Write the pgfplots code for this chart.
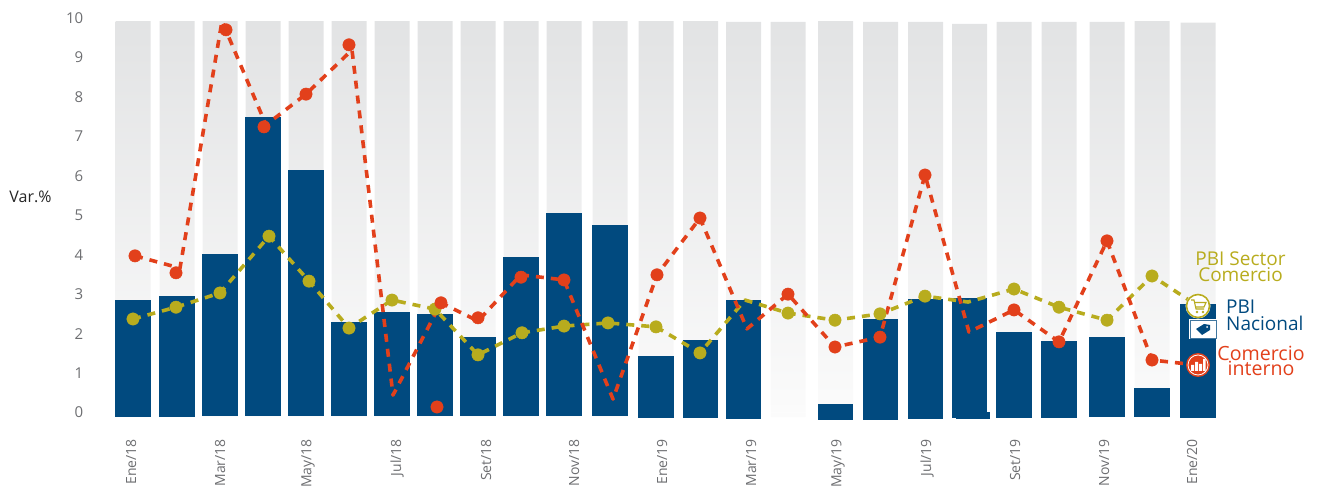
\documentclass[border=0pt]{standalone}
\usepackage{fontspec}
\setmainfont{Open Sans}
\usepackage{pgfplots}
\usepackage{pgfplotstable}
\pgfplotsset{compat=1.18}

\definecolor{pblue}{HTML}{014A7F}
\definecolor{pred}{HTML}{E2401B}
\definecolor{polive}{HTML}{B8AC1E}
\definecolor{ticktxt}{HTML}{6D6E71}
\definecolor{bartop}{HTML}{E2E3E4}
\definecolor{barfoot}{HTML}{FBFBFB}

% x = bar centre on the page, gray = backing bar, blue = PBI Nacional, base = foot of the bar
\pgfplotstableread{
x      gray  blue  base
133    9.92  2.84  -0.11
177    9.92  2.94  -0.11
220    9.92  4.01  -0.08
263    9.92  7.48  -0.08
306    9.92  6.14  -0.08
349    9.92  2.28  -0.08
392    9.92  2.54  -0.08
435    9.92  2.49  -0.08
478    9.92  1.90  -0.08
521    9.92  3.93  -0.08
564    9.92  5.05  -0.08
610    9.92  4.74  -0.08
656    9.92  1.42  -0.13
700.5  9.92  1.83  -0.13
743.5  9.90  2.84  -0.16
788    9.90  nan   nan
835.5  9.92  0.21  -0.19
880.5  9.90  2.36  -0.19
925.5  9.90  2.87  -0.16
969.5  9.85  2.89  -0.13
1014   9.90  2.03  -0.13
1059   9.90  1.80  -0.13
1107   9.90  1.90  -0.11
1152   9.92  0.61  -0.11
1198   9.88  2.74  -0.13
}\bars

% PBI Sector Comercio
\pgfplotstableread{
x     y
133   2.37
176   2.67
220   3.03
269   4.47
309   3.33
349   2.14
392   2.85
435   2.62
478   1.46
522   2.02
564   2.19
608   2.27
656   2.17
700   1.51
745   2.85
788   2.52
835   2.34
880   2.50
925   2.95
968   2.80
1014  3.13
1059  2.67
1107  2.34
1152  3.46
1198  2.70
}\olive

% Comercio interno, line
\pgfplotstableread{
x     y
135   3.97
180   3.66
222   9.92
266   7.29
306   8.07
352   9.19
393   0.44
441   2.78
478   2.32
521   3.49
564   3.36
613   0.34
657   3.49
700   4.93
747   2.12
788   3.00
835   1.66
880   1.91
925   6.02
969   2.04
1014  2.60
1059  1.79
1107  4.35
1152  1.33
1198  1.20
}\redline

% Comercio interno, dots (some months have none in the source)
\pgfplotstableread{
x     y
135   3.97
176   3.54
226   9.70
264   7.24
306   8.07
349   9.32
437   0.14
441   2.78
478   2.40
521   3.43
564   3.36
657   3.49
700   4.93
788   3.00
835   1.66
880   1.91
925   6.02
1014  2.60
1059  1.79
1107  4.35
1152  1.33
}\reddots

\begin{document}
\begin{tikzpicture}
\useasboundingbox (0,0) rectangle (1317pt,486pt);
\begin{axis}[
    at={(90pt,61pt)}, anchor=south west,
    scale only axis, width=1140pt, height=415pt,
    xmin=90, xmax=1230,
    ymin=-0.317, ymax=10.203,
    clip=false,
    axis line style={draw=none},
    major tick length=0pt,
    ytick={0,1,2,3,4,5,6,7,8,9,10},
    xtick={131,220,308,397,486,574,662,751,838,927,1015,1104,1192},
    xticklabels={Ene/18,Mar/18,May/18,Jul/18,Set/18,Nov/18,Ene/19,Mar/19,May/19,Jul/19,Set/19,Nov/19,Ene/20},
    /pgf/number format/assume math mode=true,
    yticklabel style={font=\fontsize{15}{15}\selectfont, text=ticktxt, inner sep=0pt, anchor=east, xshift=-6.5pt},
    xticklabel style={font=\fontsize{14}{14}\selectfont, text=ticktxt, inner sep=0pt, yshift=-14pt, rotate=90, anchor=east},
    bar shift=0pt, bar width=34.6pt,
]
\addplot[ybar, bar width=35pt, draw=none, shade, top color=bartop, bottom color=barfoot] table[x=x,y=gray] {\bars};
\addplot[ybar, bar width=35pt, draw=none, fill=barfoot] table[x=x,y expr=-0.12] {\bars};
\addplot[ybar, draw=pblue, fill=pblue, line width=1pt] table[x=x,y=blue] {\bars};
\addplot[ybar, draw=pblue, fill=pblue, line width=1pt] table[x=x,y=base] {\bars};
\addplot[ybar, bar width=34pt, draw=none, fill=pblue] coordinates {(973,-0.17)};
\addplot[polive, line width=3.6pt, line join=round, dash pattern=on 8pt off 7pt] table[x=x,y=y] {\olive};
\addplot[polive, only marks, mark=*, mark size=6.2pt, mark options={draw=none, fill=polive}]
    coordinates {(133,2.37)(176,2.67)(220,3.03)(269,4.47)(309,3.33)(349,2.14)(392,2.85)(435,2.62)
    (478,1.46)(522,2.02)(564,2.19)(608,2.27)(656,2.17)(700,1.51)(788,2.52)(835,2.34)(880,2.50)
    (925,2.95)(1014,3.13)(1059,2.67)(1107,2.34)(1152,3.46)};
\addplot[pred, line width=3.6pt, line join=round, dash pattern=on 8pt off 7pt] table[x=x,y=y] {\redline};
\addplot[pred, only marks, mark=*, mark size=6.2pt, mark options={draw=none, fill=pred}] table[x=x,y=y] {\reddots};
\end{axis}

\node[font=\fontsize{16}{16}\selectfont, text=black!85] at (30.5pt,289pt) {Var.\%};

% legend text
\begin{scope}[font=\fontsize{19}{19}\selectfont]
\node[text=polive] at (1240.5pt,227pt) {PBI Sector};
\node[text=polive] at (1240.5pt,211pt) {Comercio};
\node[text=pblue, anchor=west, inner sep=0pt] at (1226pt,179pt) {PBI};
\node[text=pblue, anchor=west, inner sep=0pt] at (1226pt,163pt) {Nacional};
\node[text=pred, font=\fontsize{19.6}{19.6}\selectfont] at (1261pt,133pt) {Comercio};
\node[text=pred, font=\fontsize{19.6}{19.6}\selectfont] at (1261pt,118pt) {interno};
\end{scope}

% cart icon
\begin{scope}[shift={(1198pt,180pt)}]
\fill[white] (0,0) circle (12.5pt);
\draw[polive, line width=1.6pt] (0,0) circle (11.5pt);
\draw[polive, line width=1.1pt] (-7pt,6pt) -- (-4pt,6pt) -- (-2pt,-3pt) -- (6pt,-3pt);
\draw[polive, line width=1.1pt] (-3.5pt,3.5pt) -- (8pt,3.5pt) -- (6pt,-1pt) -- (-2.5pt,-1pt);
\fill[polive] (-1pt,-6pt) circle (1.4pt) (5pt,-6pt) circle (1.4pt);
\end{scope}

% tag icon
\fill[white] (1189pt,147pt) rectangle (1217pt,167pt);
\draw[pblue!75, line width=0.8pt] (1190pt,148pt) rectangle (1216pt,166pt);
\fill[pblue] (1196pt,157pt) -- (1204pt,162pt) -- (1210pt,161pt) -- (1210pt,156pt) -- (1202pt,151pt) -- cycle;
\fill[white] (1207pt,159pt) circle (1pt);

% bars icon
\begin{scope}[shift={(1198pt,121pt)}]
\fill[pred] (0,0) circle (12pt);
\draw[white, line width=0.8pt] (0,0) circle (10pt);
\fill[white] (-7pt,-6pt) rectangle (-4pt,0pt) (-3pt,-6pt) rectangle (0pt,3pt) (1pt,-6pt) rectangle (4pt,1pt) (5pt,-6pt) rectangle (7.5pt,6pt);
\end{scope}
\end{tikzpicture}
\end{document}
